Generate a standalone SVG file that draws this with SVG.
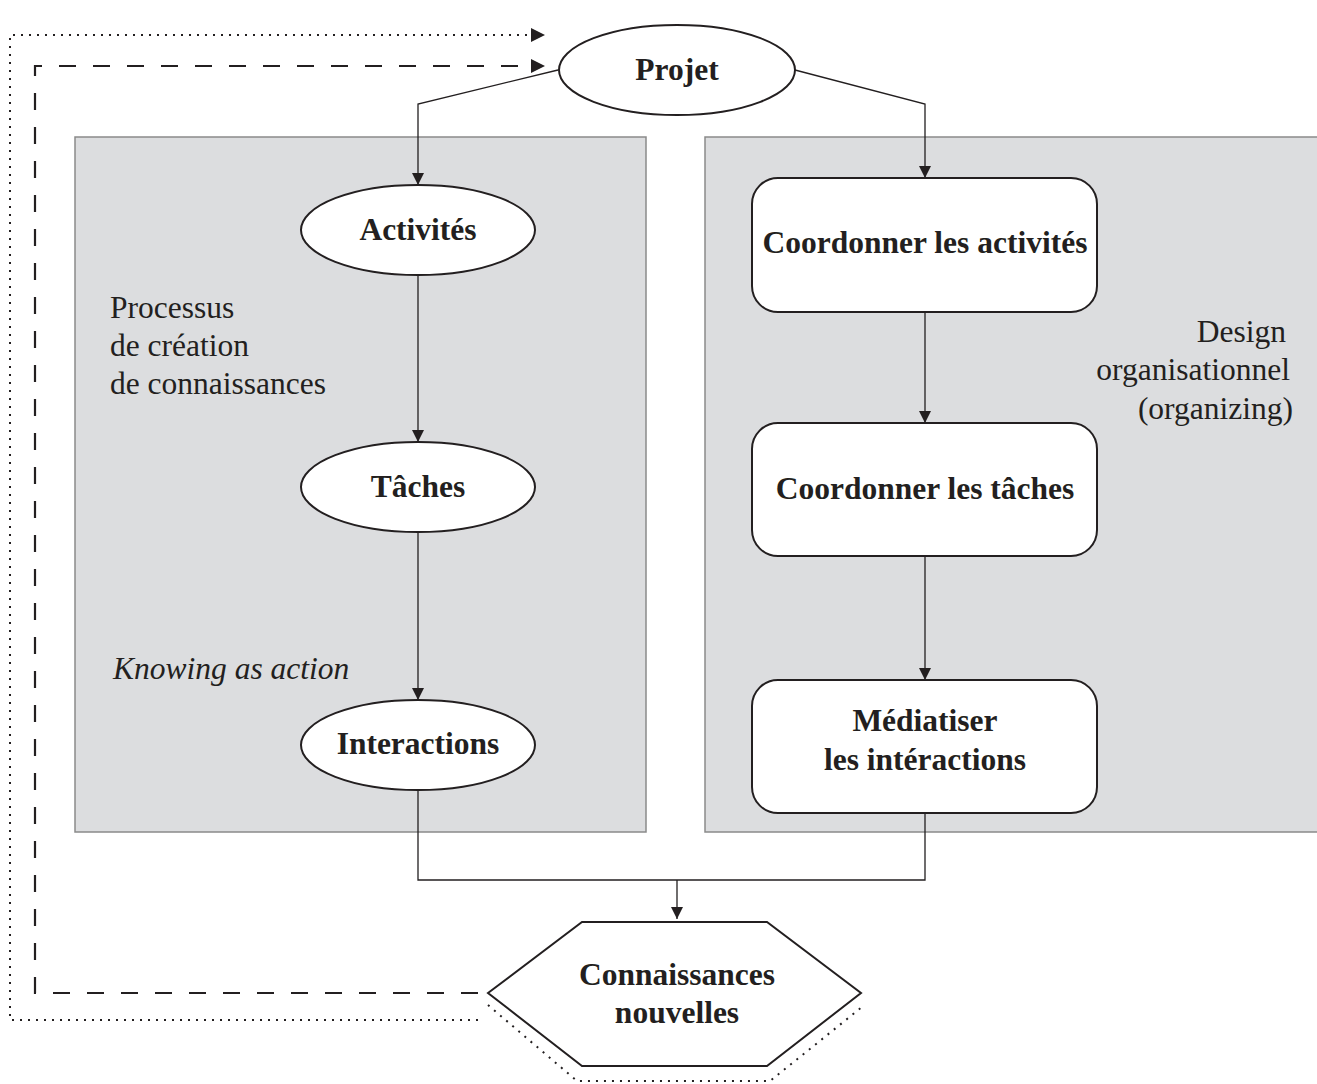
<svg xmlns="http://www.w3.org/2000/svg" width="1317" height="1084" viewBox="0 0 1317 1084">
<defs>
<style>
.panel{fill:#dcdddf;stroke:#8a8a8a;stroke-width:1.5}
.node{fill:#fff;stroke:#231f20;stroke-width:2}
.edge{fill:none;stroke:#231f20;stroke-width:1.3}
.lbl{font-family:"Liberation Serif","Times New Roman",serif;font-weight:bold;font-size:31.5px;fill:#231f20;text-anchor:middle}
.note{font-family:"Liberation Serif","Times New Roman",serif;font-size:31.5px;fill:#231f20}
.dash{fill:none;stroke:#231f20;stroke-width:2.2;stroke-dasharray:17 17}
.dot{fill:none;stroke:#231f20;stroke-width:2;stroke-dasharray:2 6}
</style>
<marker id="arr" viewBox="0 0 10 10" refX="10" refY="5" markerWidth="12" markerHeight="12" markerUnits="userSpaceOnUse" orient="auto">
<path d="M0,0 L10,5 L0,10 z" fill="#231f20"/>
</marker>
</defs>
<rect width="1317" height="1084" fill="#fff"/>
<g id="panel-left"><rect class="panel" x="75" y="137" width="571" height="695"/>
<text class="note" x="110" y="318">Processus</text>
<text class="note" x="110" y="356">de création</text>
<text class="note" x="110" y="394">de connaissances</text>
<text class="note" x="113" y="679" font-style="italic" font-size="30px">Knowing as action</text>
</g>
<g id="panel-right"><rect class="panel" x="705" y="137" width="620" height="695"/>
<text class="note" x="1286" y="342" text-anchor="end">Design</text>
<text class="note" x="1290" y="380" text-anchor="end">organisationnel</text>
<text class="note" x="1293" y="419" text-anchor="end">(organizing)</text>
</g>
<g id="connectors">
<polyline class="edge" points="558,70 418,104 418,185" marker-end="url(#arr)"/>
<polyline class="edge" points="795,70 925,104 925,178" marker-end="url(#arr)"/>
<line class="edge" x1="418" y1="275" x2="418" y2="442" marker-end="url(#arr)"/>
<line class="edge" x1="418" y1="532" x2="418" y2="700" marker-end="url(#arr)"/>
<line class="edge" x1="925" y1="312" x2="925" y2="423" marker-end="url(#arr)"/>
<line class="edge" x1="925" y1="556" x2="925" y2="680" marker-end="url(#arr)"/>
<polyline class="edge" points="418,790 418,880 925,880 925,813"/>
<line class="edge" x1="677" y1="880" x2="677" y2="919" marker-end="url(#arr)"/>
<polyline class="dash" points="478,993 35,993 35,66 536,66"/>
<path d="M531,59 L545,66 L531,73 z" fill="#231f20"/>
<polyline class="dot" points="478,1020 10,1020 10,35 533,35"/>
<path d="M531,28 L545,35 L531,42 z" fill="#231f20"/>
<polyline class="dot" points="488,1005 577,1081 770,1081 862,1007"/>
</g>
<g id="projet"><ellipse class="node" cx="677" cy="70" rx="118" ry="45"/><text class="lbl" x="677" y="80">Projet</text></g>
<g id="activites"><ellipse class="node" cx="418" cy="230" rx="117" ry="45"/><text class="lbl" x="418" y="240">Activités</text></g>
<g id="taches"><ellipse class="node" cx="418" cy="487" rx="117" ry="45"/><text class="lbl" x="418" y="497">Tâches</text></g>
<g id="interactions"><ellipse class="node" cx="418" cy="745" rx="117" ry="45"/><text class="lbl" x="418" y="754">Interactions</text></g>
<g id="coord-activites"><rect class="node" x="752" y="178" width="345" height="134" rx="26"/><text class="lbl" x="925" y="253">Coordonner les activités</text></g>
<g id="coord-taches"><rect class="node" x="752" y="423" width="345" height="133" rx="26"/><text class="lbl" x="925" y="499">Coordonner les tâches</text></g>
<g id="mediatiser"><rect class="node" x="752" y="680" width="345" height="133" rx="26"/><text class="lbl" x="925" y="731">Médiatiser</text><text class="lbl" x="925" y="770">les intéractions</text></g>
<g id="connaissances"><polygon class="node" points="488,993 582,922 767,922 861,993 767,1066 582,1066"/><text class="lbl" x="677" y="985">Connaissances</text><text class="lbl" x="677" y="1023">nouvelles</text></g>
</svg>
